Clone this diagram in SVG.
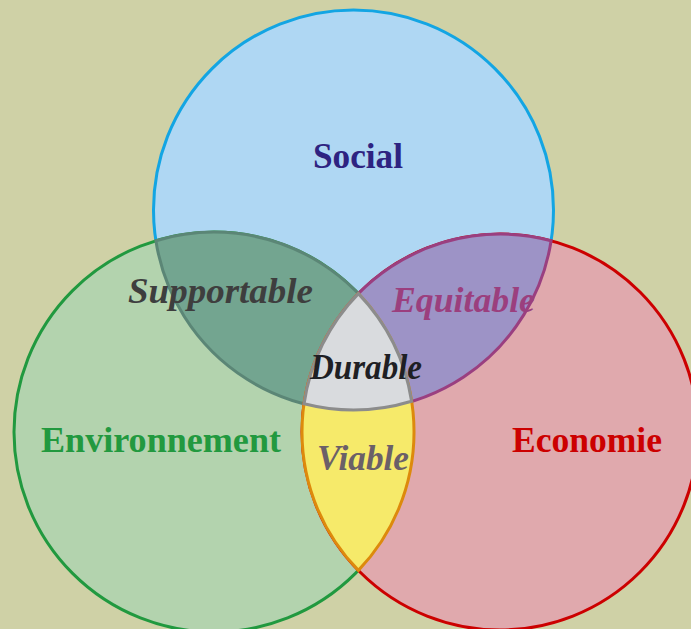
<svg xmlns="http://www.w3.org/2000/svg" width="691" height="629" viewBox="0 0 691 629">
<style>
.lbl{font-family:"Liberation Serif","DejaVu Serif",serif;font-weight:bold;font-size:36px}
.it{font-style:italic;font-size:35px}
</style>
<rect width="691" height="629" fill="#cfd1a6"/>
<g id="social">
<circle cx="353.5" cy="210" r="200" fill="#afd7f3" stroke="#13a5e3" stroke-width="3"/>
</g>
<g id="environnement">
<circle cx="214" cy="432" r="200" fill="#b3d3ae" stroke="#21993f" stroke-width="3"/>
</g>
<g id="economie">
<circle cx="500" cy="432" r="198" fill="#e0a9ad" stroke="#cc0000" stroke-width="3"/>
</g>
<g id="supportable">
<path d="M155.9,240.7 A200,200 0 0 1 411.6,401.3 A200,200 0 0 1 155.9,240.7 Z" fill="#73a590" stroke="#5b8676" stroke-width="3"/>
</g>
<g id="equitable">
<path d="M304.1,403.8 A198,198 0 0 1 551.1,240.8 A200,200 0 0 1 304.1,403.8 Z" fill="#9d93c6" stroke="#9a3f80" stroke-width="3"/>
</g>
<g id="viable">
<path d="M358.4,293.6 A200,200 0 0 1 358.4,570.4 A198,198 0 0 1 358.4,293.6 Z" fill="#f6ea6a" stroke="#dd8a0c" stroke-width="3"/>
</g>
<g id="durable">
<path d="M358.4,293.6 A200,200 0 0 1 411.6,401.3 A200,200 0 0 1 304.1,403.8 A198,198 0 0 1 358.4,293.6 Z" fill="#d9dbde" stroke="#8c8c8c" stroke-width="3"/>
</g>
<g id="labels">
<text class="lbl" x="313" y="168" fill="#2e2381" textLength="90" lengthAdjust="spacingAndGlyphs">Social</text>
<text class="lbl" x="41" y="452" fill="#22993f" textLength="240" lengthAdjust="spacingAndGlyphs">Environnement</text>
<text class="lbl" x="512" y="452" fill="#cc0000" textLength="150" lengthAdjust="spacingAndGlyphs">Economie</text>
<text class="lbl it" x="128" y="303" fill="#3e3e3e" textLength="185" lengthAdjust="spacingAndGlyphs">Supportable</text>
<text class="lbl it" x="392" y="312" fill="#9b3f7e" textLength="143" lengthAdjust="spacingAndGlyphs">Equitable</text>
<text class="lbl it" x="310" y="379" fill="#1f1f24" textLength="112" lengthAdjust="spacingAndGlyphs">Durable</text>
<text class="lbl it" x="317" y="470" fill="#6b6068" textLength="92" lengthAdjust="spacingAndGlyphs">Viable</text>
</g>
</svg>
